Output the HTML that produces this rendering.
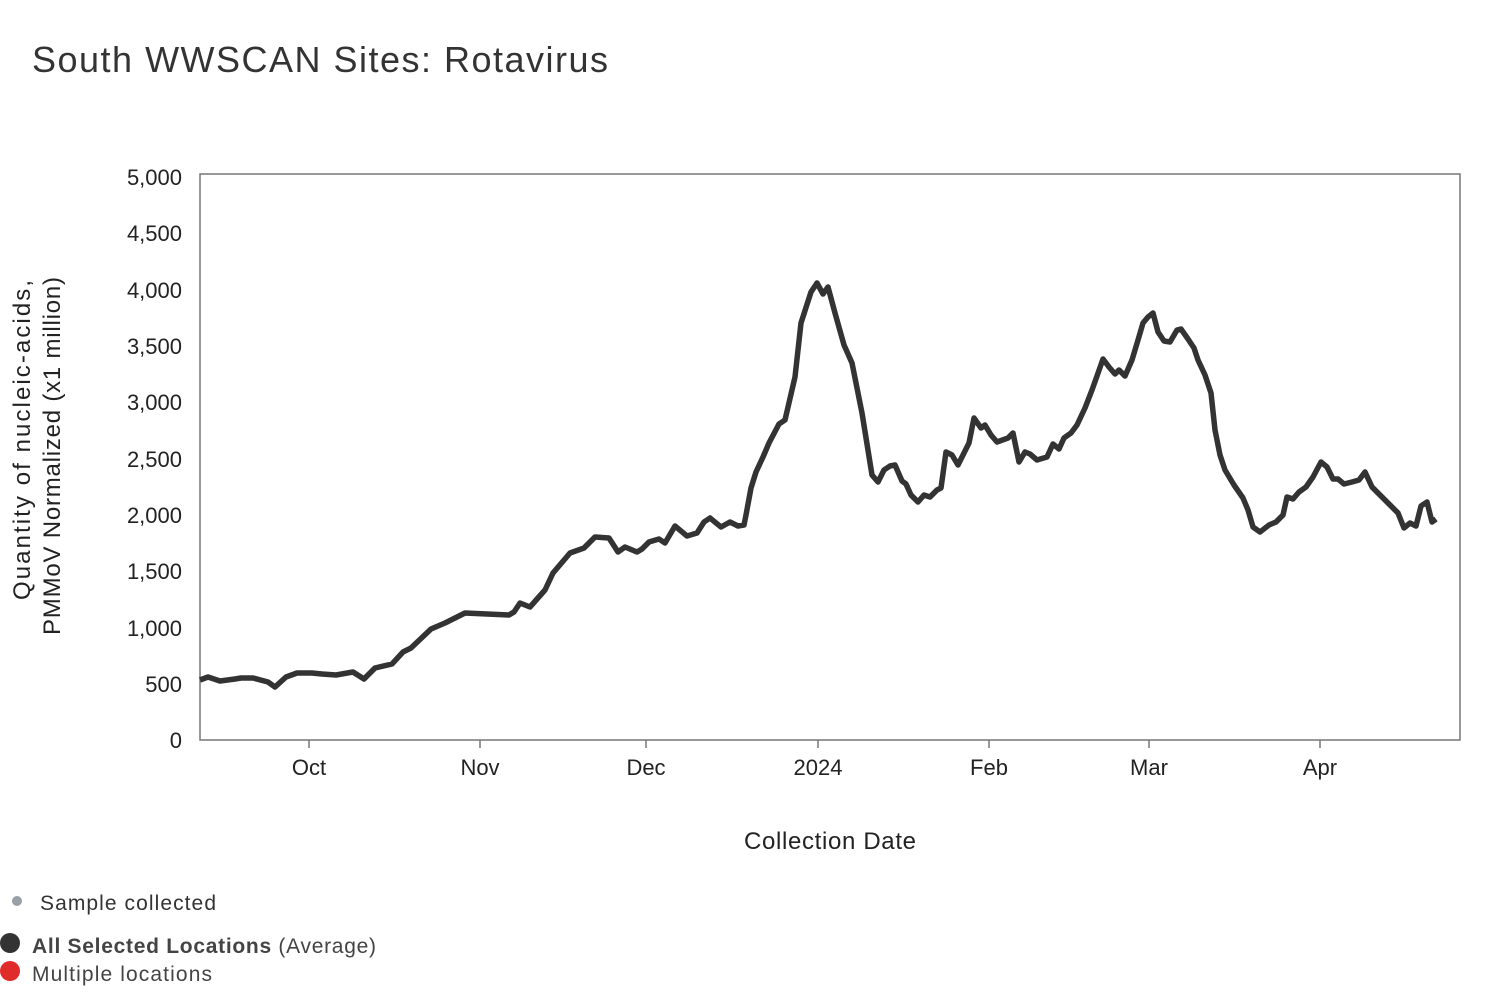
<!DOCTYPE html>
<html><head><meta charset="utf-8"><style>
body{margin:0;background:#fff;width:1500px;height:1002px;overflow:hidden;font-family:"Liberation Sans",sans-serif;}
</style></head><body>
<svg width="1500" height="1002" xmlns="http://www.w3.org/2000/svg" font-family="Liberation Sans, sans-serif">
<text x="32" y="72" font-size="36" fill="#333" textLength="576" lengthAdjust="spacing">South WWSCAN Sites: Rotavirus</text>
<rect x="200" y="174" width="1260" height="566" fill="none" stroke="#777" stroke-width="1.5"/>
<g font-size="22" fill="#222" text-anchor="end">
<text x="182" y="748">0</text><text x="182" y="692">500</text><text x="182" y="636">1,000</text>
<text x="182" y="579">1,500</text><text x="182" y="523">2,000</text><text x="182" y="467">2,500</text>
<text x="182" y="410">3,000</text><text x="182" y="354">3,500</text><text x="182" y="298">4,000</text>
<text x="182" y="241">4,500</text><text x="182" y="185">5,000</text>
</g>
<g stroke="#777" stroke-width="1.5">
<line x1="309" y1="740" x2="309" y2="748"/><line x1="480" y1="740" x2="480" y2="748"/><line x1="646" y1="740" x2="646" y2="748"/><line x1="818" y1="740" x2="818" y2="748"/><line x1="989" y1="740" x2="989" y2="748"/><line x1="1149" y1="740" x2="1149" y2="748"/><line x1="1320" y1="740" x2="1320" y2="748"/>
</g>
<g font-size="22" fill="#222" text-anchor="middle">
<text x="309" y="775">Oct</text><text x="480" y="775">Nov</text><text x="646" y="775">Dec</text><text x="818" y="775">2024</text><text x="989" y="775">Feb</text><text x="1149" y="775">Mar</text><text x="1320" y="775">Apr</text>
<text x="830" y="849" font-size="24" textLength="172" lengthAdjust="spacing">Collection Date</text>
</g>
<g font-size="24" fill="#222" text-anchor="middle">
<text transform="translate(30,440) rotate(-90)" textLength="320" lengthAdjust="spacing">Quantity of nucleic-acids,</text>
<text transform="translate(60,456) rotate(-90)" textLength="358" lengthAdjust="spacing">PMMoV Normalized (x1 million)</text>
</g>
<polyline fill="none" stroke="#333" stroke-width="5.5" stroke-linejoin="round" points="200,680 208,677 220,681 235,679 241,678 253,678 268,682 275,687 286,677 297,673 312,673 322,674 336,675 353,672 364,679 375,668 392,664 403,652 411,648 431,629 445,623 465,613 509,615 514,612 520,603 530,607 545,590 553,573 570,553 584,548 595,537 609,538 618,552 625,547 637,552 642,549 649,542 659,539 665,543 675,526 687,536 697,533 704,522 710,518 721,527 730,522 738,526 744,525 746,515 751,488 756,472 763,457 769,443 779,424 785,420 795,377 801,323 811,292 817,283 823,294 828,287 835,313 844,345 852,363 862,413 872,475 878,482 884,470 890,466 895,465 902,481 906,484 911,495 918,502 924,495 930,497 937,490 941,488 946,452 952,455 958,465 969,443 974,418 981,428 985,425 991,435 997,442 1008,438 1013,433 1019,462 1025,452 1030,454 1037,460 1047,457 1053,444 1059,449 1064,438 1071,433 1077,425 1085,408 1092,390 1097,376 1103,359 1109,367 1115,374 1119,370 1125,376 1132,360 1138,340 1143,323 1148,317 1153,313 1158,332 1164,341 1170,342 1177,330 1181,329 1188,339 1194,348 1198,360 1205,375 1211,393 1215,430 1220,455 1225,470 1234,485 1243,498 1248,510 1253,527 1260,532 1269,525 1276,522 1283,515 1287,497 1293,499 1299,492 1306,487 1313,477 1321,462 1327,467 1333,479 1338,479 1344,484 1352,482 1359,480 1365,472 1372,487 1378,493 1385,500 1392,507 1398,513 1404,528 1410,523 1416,526 1421,506 1427,502 1432,522 1436,519"/>
<circle cx="17" cy="901" r="5" fill="#9aa0a8"/>
<text x="40" y="910" font-size="21" fill="#333" textLength="176" lengthAdjust="spacing">Sample collected</text>
<circle cx="10" cy="943" r="10" fill="#333"/>
<text x="32" y="953" font-size="21" fill="#444" textLength="344" lengthAdjust="spacing"><tspan font-weight="bold">All Selected Locations</tspan> (Average)</text>
<circle cx="10" cy="971" r="10" fill="#e02b2b"/>
<text x="32" y="981" font-size="21" fill="#444" textLength="180" lengthAdjust="spacing">Multiple locations</text>
</svg>
</body></html>
